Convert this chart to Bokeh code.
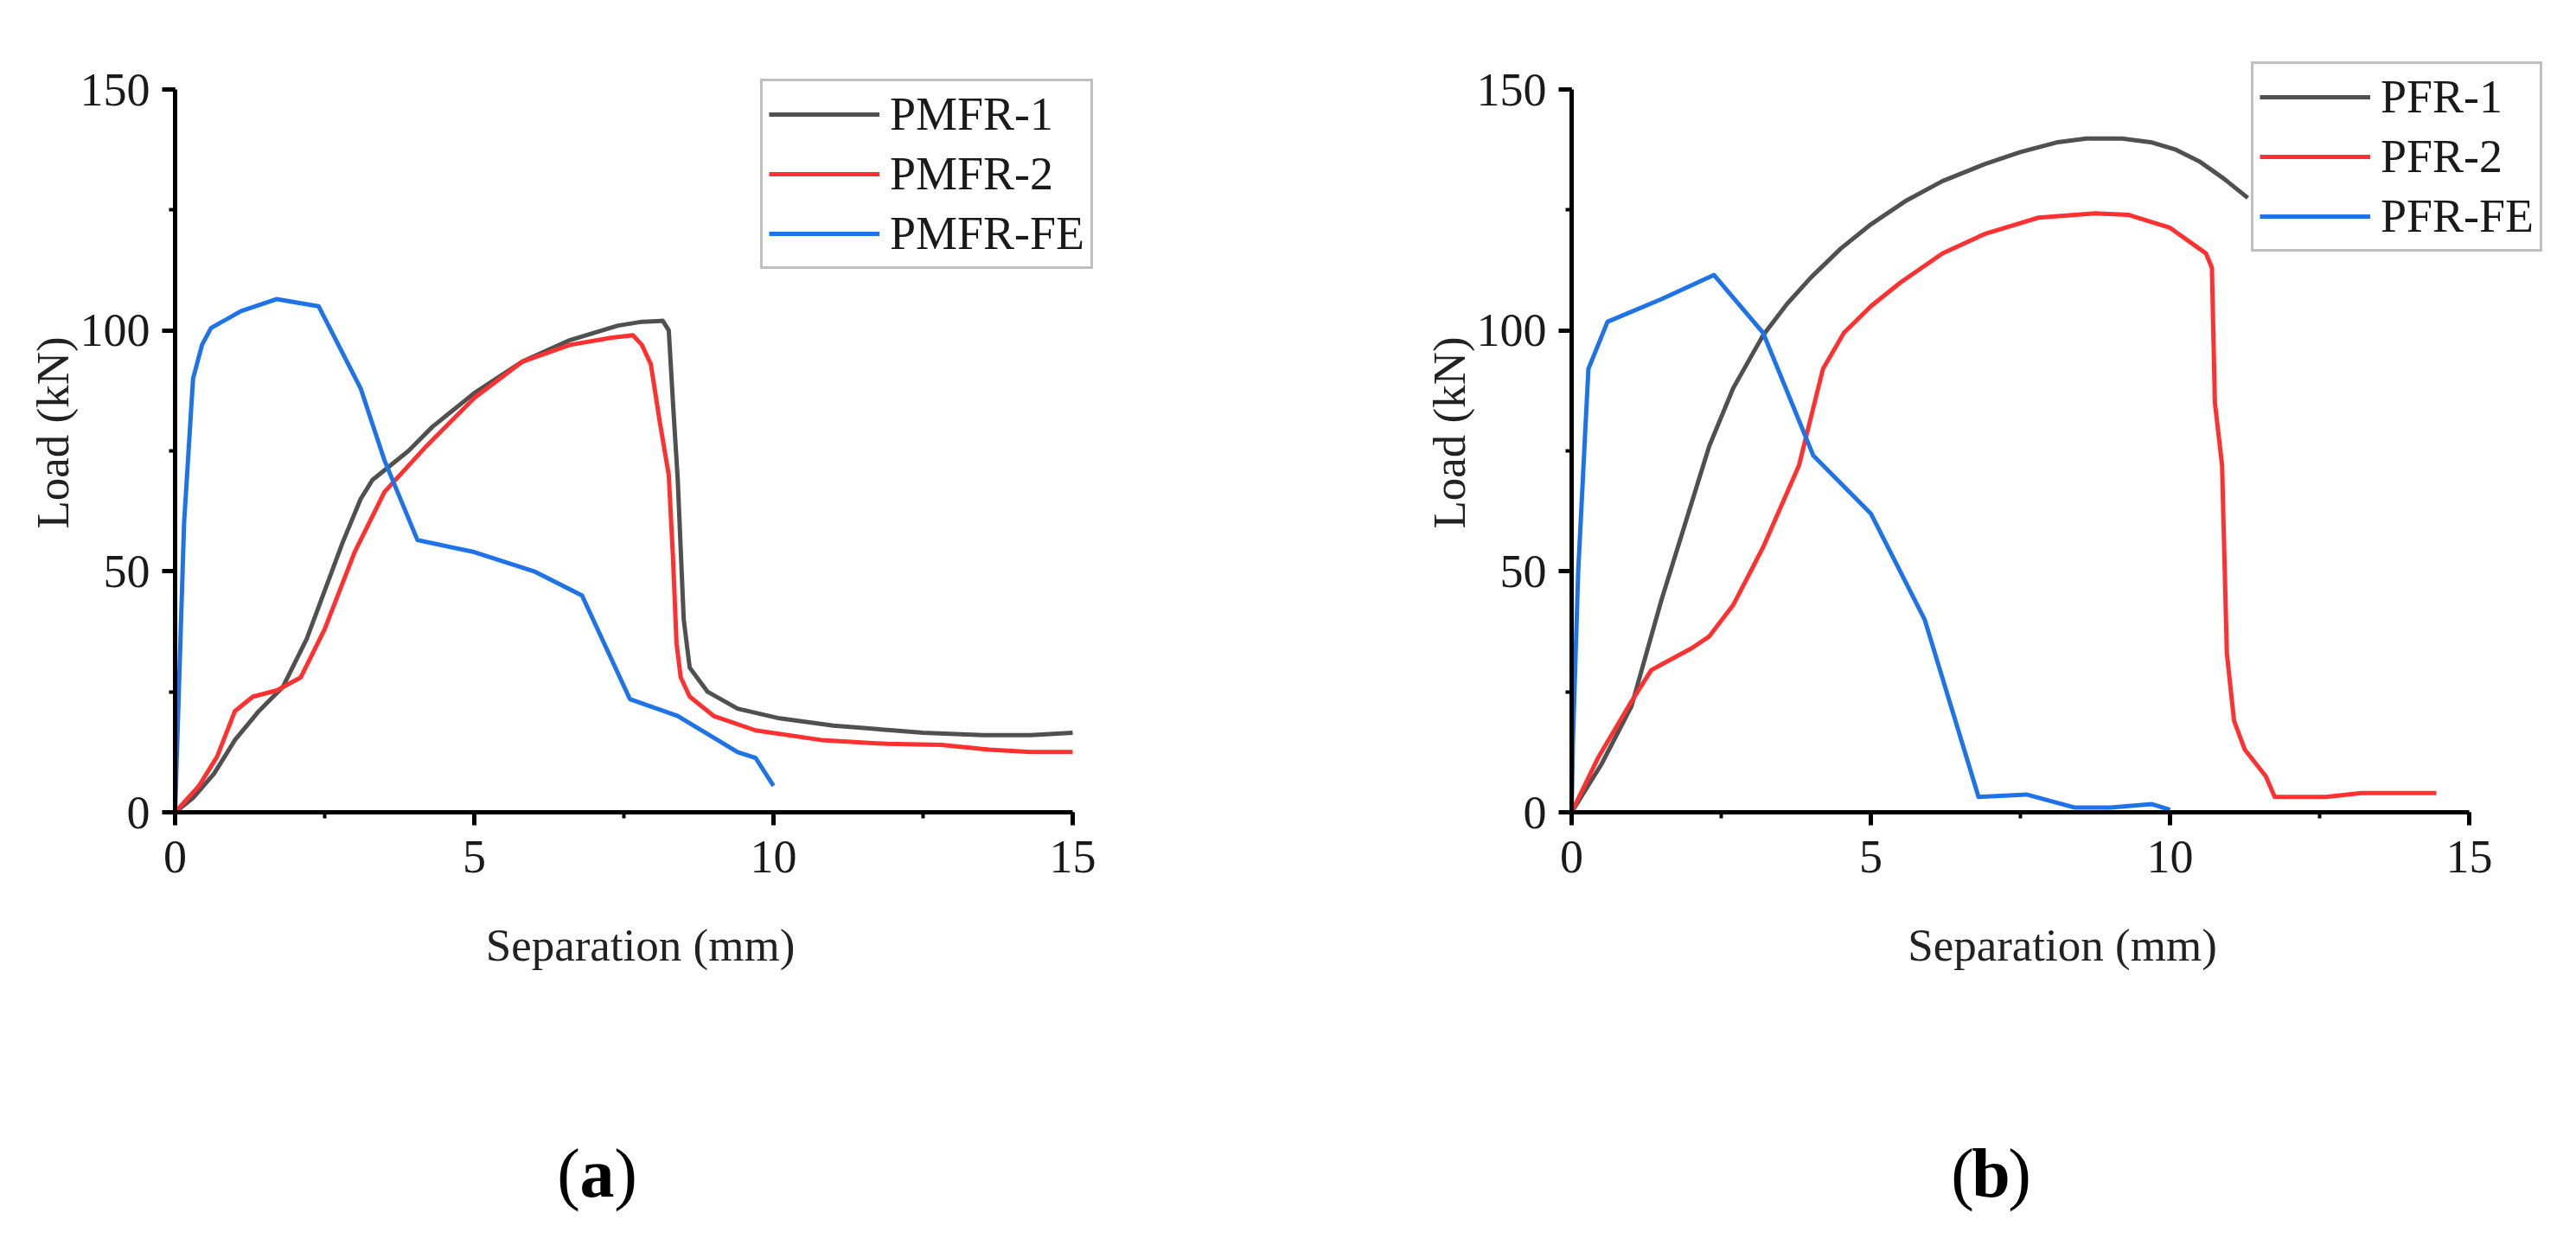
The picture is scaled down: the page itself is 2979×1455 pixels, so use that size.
from bokeh.plotting import figure
from bokeh.layouts import row, column
from bokeh.models import Range1d, SingleIntervalTicker, Legend, LegendItem, Label
from bokeh.embed import file_html
from bokeh.resources import INLINE

# ---------------- data (a) ----------------
pmfr1_x = [0, 0.3, 0.65, 1.0, 1.4, 1.8, 2.2, 2.5, 2.8, 3.1, 3.3, 3.6, 3.9, 4.3, 5.0, 5.8, 6.6, 7.4, 7.8, 8.15,
           8.25, 8.32, 8.4, 8.5, 8.6, 8.9, 9.4, 10.1, 11.0, 12.0, 12.5, 13.5, 14.3, 15.0]
pmfr1_y = [0, 3, 8, 15, 21, 26, 36, 46, 56, 65, 69, 72, 75, 80, 87, 93.5, 98, 101, 101.8, 102,
           100, 85, 69, 40, 30, 25, 21.5, 19.5, 18, 17, 16.5, 16, 16, 16.5]
pmfr2_x = [0, 0.4, 0.7, 1.0, 1.3, 1.7, 2.1, 2.5, 3.0, 3.5, 4.2, 5.0, 5.8, 6.6, 7.3, 7.65, 7.8, 7.95, 8.1,
           8.25, 8.32, 8.38, 8.45, 8.6, 9.0, 9.7, 10.8, 11.9, 12.8, 13.6, 14.3, 15.0]
pmfr2_y = [0, 5.5, 11.5, 21, 24, 25.3, 28, 38, 54, 66.5, 76, 86, 93.5, 97, 98.5, 99, 97, 93, 81,
           70, 53, 35, 28, 24, 20, 17, 15, 14.2, 14, 13, 12.5, 12.5]
pmfrfe_x = [0, 0.05, 0.15, 0.3, 0.45, 0.6, 1.1, 1.7, 2.4, 3.1, 3.5, 4.05, 5.0, 6.0, 6.8, 7.6, 8.4, 9.4, 9.7, 10.0]
pmfrfe_y = [0, 20, 60, 90, 97, 100.5, 104, 106.5, 105, 88, 73, 56.5, 54, 50, 45, 23.5, 20, 12.5, 11.3, 5.5]

# ---------------- data (b) ----------------
pfr1_x = [0, 0.5, 1.0, 1.5, 2.0, 2.3, 2.7, 3.2, 3.6, 4.0, 4.5, 5.0, 5.6, 6.2, 6.9, 7.5, 8.1, 8.6, 9.2, 9.7,
          10.1, 10.5, 10.9, 11.3]
pfr1_y = [0, 10, 22, 44, 64, 76, 88, 99, 105.5, 111, 117, 122, 127, 131, 134.5, 137, 139, 139.8, 139.8, 139,
          137.5, 135, 131.5, 127.5]
pfr2_x = [0, 0.45, 1.0, 1.33, 1.55, 2.0, 2.3, 2.7, 3.2, 3.8, 4.2, 4.55, 5.0, 5.5, 6.2, 6.9, 7.8, 8.75, 9.3,
          10.0, 10.6, 10.7, 10.75, 10.87, 10.95, 11.07, 11.25, 11.6, 11.75, 12.6, 13.2, 14.45]
pfr2_y = [0, 11.5, 23, 29.5, 31, 34, 36.5, 43, 55, 72, 92, 99.5, 105, 110, 116, 120, 123.4, 124.3, 124,
          121.3, 116, 113, 85, 72, 33, 19, 13, 7.5, 3.2, 3.2, 4, 4]
pfrfe_x = [0, 0.02, 0.11, 0.28, 0.6, 1.5, 2.38, 3.2, 4.04, 5.0, 5.9, 6.8, 7.6, 8.4, 9.0, 9.7, 10.0]
pfrfe_y = [0, 14, 50, 92, 101.8, 106.5, 111.5, 99.5, 74, 62, 40, 3.2, 3.7, 1.0, 1.0, 1.7, 0.5]

labels_a = ["PMFR-1", "PMFR-2", "PMFR-FE"]
labels_b = ["PFR-1", "PFR-2", "PFR-FE"]
colors = ["#505050", "#ff3030", "#1e73e8"]
x_ticks_interval = 5
y_ticks_interval = 50
x_max = 15
y_max = 150

FONT = "Liberation Serif"

# layout constants (pixels)
AXIS_W = 1038          # pixel length of x axis 0..15
AXIS_H = 836           # pixel length of y axis 0..150
PX_X = AXIS_W / x_max
PX_Y = AXIS_H / y_max
TOP_EXTRA = 42         # frame room above y=150 for legend
BORDER_L = 202
BORDER_T = 61
BORDER_B = 210
FRAME_H = AXIS_H + TOP_EXTRA


def make_panel(series, labels, width, frame_w, legend_loc):
    right = width - BORDER_L - frame_w
    p = figure(width=width, height=BORDER_T + FRAME_H + BORDER_B, output_backend="svg",
               toolbar_location=None,
               x_range=Range1d(0, frame_w / PX_X), y_range=Range1d(0, FRAME_H / PX_Y),
               min_border_left=BORDER_L, min_border_top=BORDER_T, min_border_bottom=BORDER_B,
               min_border_right=right)
    p.outline_line_color = None
    p.grid.visible = False
    p.background_fill_color = "white"
    p.border_fill_color = "white"

    p.xaxis.ticker = SingleIntervalTicker(interval=x_ticks_interval, num_minor_ticks=2)
    p.yaxis.ticker = SingleIntervalTicker(interval=y_ticks_interval, num_minor_ticks=2)
    p.xaxis.bounds = (0, x_max)
    p.yaxis.bounds = (0, y_max)
    p.xaxis.axis_label = "Separation (mm)"
    p.yaxis.axis_label = "Load (kN)"
    for ax in (p.xaxis, p.yaxis):
        ax.axis_line_width = 5
        ax.axis_line_color = "black"
        ax.major_tick_line_width = 5
        ax.major_tick_line_color = "black"
        ax.minor_tick_line_width = 4
        ax.minor_tick_line_color = "black"
        ax.major_tick_out = 15
        ax.major_tick_in = 0
        ax.minor_tick_out = 7
        ax.minor_tick_in = 0
        ax.major_label_text_font = FONT
        ax.major_label_text_font_size = "54px"
        ax.major_label_text_color = "#1a1a1a"
        ax.axis_label_text_font = FONT
        ax.axis_label_text_font_size = "53px"
        ax.axis_label_text_font_style = "normal"
        ax.axis_label_text_color = "#222222"
    p.xaxis.major_label_standoff = 18
    p.yaxis.major_label_standoff = 14
    p.xaxis.axis_label_standoff = 52
    p.yaxis.axis_label_standoff = 0

    items = []
    for (xs, ys), lab, col in zip(series, labels, colors):
        r = p.line(xs, ys, line_color=col, line_width=5, line_join="round")
        items.append(LegendItem(label=lab, renderers=[r]))

    leg = Legend(items=items, location=legend_loc, margin=0, padding=7, spacing=7,
                 glyph_width=128, glyph_height=62, label_height=62, label_standoff=12,
                 label_text_font=FONT, label_text_font_size="54px", label_text_color="#1a1a1a",
                 border_line_color="#808080", border_line_width=3,
                 background_fill_color="white", background_fill_alpha=1.0)
    p.add_layout(leg)
    return p


def make_caption(width, height, cx, cy_from_top, letter):
    c = figure(width=width, height=height, output_backend="svg", toolbar_location=None,
               x_range=Range1d(0, width), y_range=Range1d(0, height),
               x_axis_type=None, y_axis_type=None,
               min_border_left=0, min_border_right=0, min_border_top=0, min_border_bottom=0)
    c.outline_line_color = None
    c.grid.visible = False
    for txt, off, style in (("(", -33, "normal"), (letter, 0, "bold"), (")", 33, "normal")):
        c.add_layout(Label(x=cx, y=height - cy_from_top, x_offset=off, text=txt, text_font=FONT,
                           text_font_size="80px", text_font_style=style, text_color="black",
                           text_align="center", text_baseline="middle"))
    return c


W_A = 1615
W_B = 1345
pa = make_panel([(pmfr1_x, pmfr1_y), (pmfr2_x, pmfr2_y), (pmfrfe_x, pmfrfe_y)], labels_a,
                W_A, 1076, (677, 628))
pb = make_panel([(pfr1_x, pfr1_y), (pfr2_x, pfr2_y), (pfrfe_x, pfrfe_y)], labels_b,
                W_B, W_B - BORDER_L - 8, (786, 648))

CAP_H = 280
top_of_caps = 8 + BORDER_T + FRAME_H + BORDER_B
ca = make_caption(W_A, CAP_H, 698 - 8, 1364 - top_of_caps, "a")
cb = make_caption(W_B, CAP_H, 2310 - 8 - W_A, 1364 - top_of_caps, "b")

layout = column(row(pa, pb), row(ca, cb))
open("out.html", "w").write(file_html(layout, INLINE))
